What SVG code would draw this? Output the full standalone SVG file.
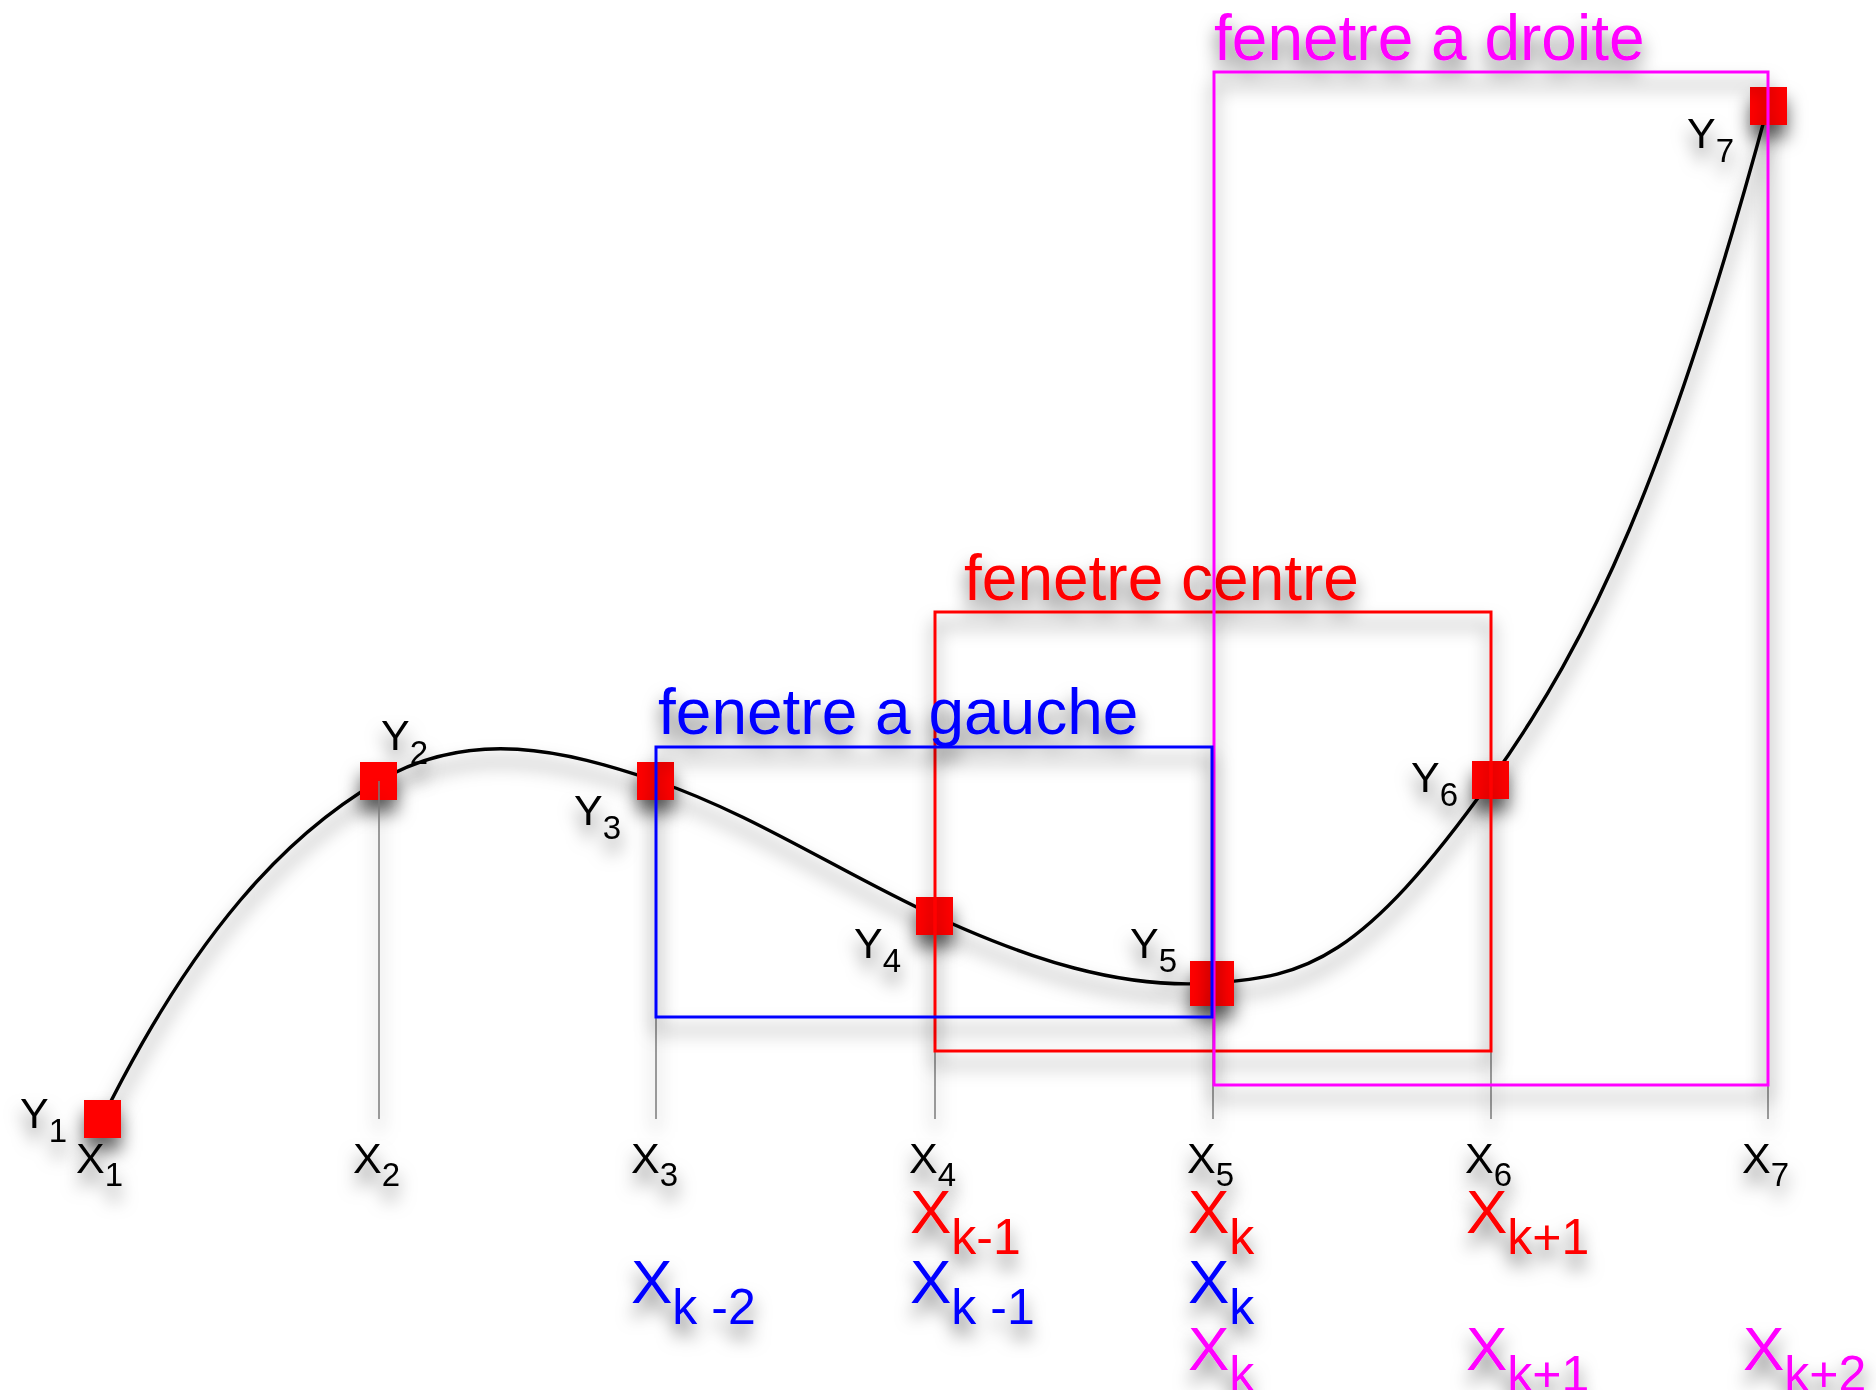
<svg xmlns="http://www.w3.org/2000/svg" width="1876" height="1390" viewBox="0 0 1876 1390">
<defs>
<filter id="sh" filterUnits="userSpaceOnUse" x="0" y="0" width="1876" height="1390">
<feGaussianBlur in="SourceAlpha" stdDeviation="9"/>
<feOffset dy="13" result="b"/>
<feFlood flood-color="#000" flood-opacity="0.6"/>
<feComposite in2="b" operator="in"/>
<feMerge><feMergeNode/><feMergeNode in="SourceGraphic"/></feMerge>
</filter>
</defs>
<style>
text{font-family:"Liberation Sans",Arial,Helvetica,sans-serif}
.sh{filter:url(#sh)}
.pt{fill:#ff0000}
.lab{font-size:43px;fill:#000}
.sub{font-size:33px}
.big{font-size:62px}
.bsub{font-size:50px}
.title{font-size:64px}
.box{fill:none;stroke-width:3}
.tick{stroke:#7a7a7a;stroke-width:1.5;fill:none}
.curve{fill:none;stroke:#000;stroke-width:3.4}
.red{fill:#ff0000}
.blue{fill:#0000ff}
.mag{fill:#ff00ff}
</style>
<rect width="1876" height="1390" fill="#fff"/>

<g id="connectors" class="sh">
<path class="curve" d="M102,1119 C194.6,932 286.4,834.7 379,781 C471.6,727.3 563.4,750 656,781 C748.6,812 842.4,873.3 935,916 C1027.6,958.7 1120.4,989.6 1213,983 C1305.6,976.4 1361,962 1491,780 C1591,640 1668,476 1768,106"/>
</g>

<g id="P1" class="sh"><rect class="pt" x="84" y="1100" width="37" height="38"/><text class="lab" x="20" y="1128">Y<tspan class="sub" dy="14">1</tspan></text></g>
<g id="P2" class="sh"><rect class="pt" x="360" y="762" width="37" height="38"/><text class="lab" x="381" y="750">Y<tspan class="sub" dy="14">2</tspan></text></g>
<g id="P3" class="sh"><rect class="pt" x="637" y="762" width="37" height="38"/><text class="lab" x="574" y="825">Y<tspan class="sub" dy="14">3</tspan></text></g>
<g id="P4" class="sh"><rect class="pt" x="916" y="897" width="37" height="38"/><text class="lab" x="854" y="958">Y<tspan class="sub" dy="14">4</tspan></text></g>
<g id="P5" class="sh"><rect class="pt" x="1190" y="961" width="44" height="45"/><text class="lab" x="1130" y="958">Y<tspan class="sub" dy="14">5</tspan></text></g>
<g id="P6" class="sh"><rect class="pt" x="1472" y="761" width="37" height="38"/><text class="lab" x="1411" y="792">Y<tspan class="sub" dy="14">6</tspan></text></g>
<g id="P7" class="sh"><rect class="pt" x="1750" y="87" width="37" height="38"/><text class="lab" x="1687" y="148">Y<tspan class="sub" dy="14">7</tspan></text></g>

<g id="ticks" class="sh">
<line class="tick" x1="379" y1="781" x2="379" y2="1119"/>
<line class="tick" x1="656" y1="781" x2="656" y2="1119"/>
<line class="tick" x1="935" y1="916" x2="935" y2="1119"/>
<line class="tick" x1="1213" y1="983" x2="1213" y2="1119"/>
<line class="tick" x1="1491" y1="780" x2="1491" y2="1119"/>
<line class="tick" x1="1768" y1="106" x2="1768" y2="1119"/>
</g>

<g id="win-centre" class="sh">
<rect class="box" x="935" y="612" width="556" height="439" stroke="#ff0000"/>
<text class="title red" x="964" y="600">fenetre centre</text>
</g>
<g id="win-droite" class="sh">
<rect class="box" x="1214" y="72" width="554" height="1013" stroke="#ff00ff"/>
<text class="title mag" x="1214" y="60">fenetre a droite</text>
</g>
<g id="win-gauche" class="sh">
<rect class="box" x="656" y="747" width="556" height="270" stroke="#0000ff"/>
<text class="title blue" x="658" y="734">fenetre a gauche</text>
</g>

<g id="xlabels" class="sh">
<text class="lab" x="76" y="1173">X<tspan class="sub" dy="13">1</tspan></text>
<text class="lab" x="353" y="1173">X<tspan class="sub" dy="13">2</tspan></text>
<text class="lab" x="631" y="1173">X<tspan class="sub" dy="13">3</tspan></text>
<text class="lab" x="909" y="1173">X<tspan class="sub" dy="13">4</tspan></text>
<text class="lab" x="1187" y="1173">X<tspan class="sub" dy="13">5</tspan></text>
<text class="lab" x="1465" y="1173">X<tspan class="sub" dy="13">6</tspan></text>
<text class="lab" x="1742" y="1173">X<tspan class="sub" dy="13">7</tspan></text>
</g>

<g id="klabels-centre" class="sh">
<text class="big red" x="910" y="1233">X<tspan class="bsub" dy="21">k-1</tspan></text>
<text class="big red" x="1188" y="1233">X<tspan class="bsub" dy="21">k</tspan></text>
<text class="big red" x="1466" y="1233">X<tspan class="bsub" dy="21">k+1</tspan></text>
</g>
<g id="klabels-gauche" class="sh">
<text class="big blue" x="631" y="1303">X<tspan class="bsub" dy="21">k -2</tspan></text>
<text class="big blue" x="910" y="1303">X<tspan class="bsub" dy="21">k -1</tspan></text>
<text class="big blue" x="1188" y="1303">X<tspan class="bsub" dy="21">k</tspan></text>
</g>
<g id="klabels-droite" class="sh">
<text class="big mag" x="1188" y="1370">X<tspan class="bsub" dy="21">k</tspan></text>
<text class="big mag" x="1466" y="1370">X<tspan class="bsub" dy="21">k+1</tspan></text>
<text class="big mag" x="1743" y="1370">X<tspan class="bsub" dy="21">k+2</tspan></text>
</g>
</svg>
